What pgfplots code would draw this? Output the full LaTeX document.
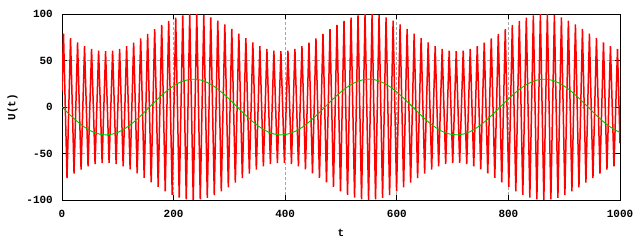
\documentclass[border=0pt]{standalone}
\usepackage{pgfplots}
\pgfplotsset{compat=1.18}
\usepackage{fontspec}
\setmainfont{Liberation Mono}
\definecolor{gpgreen}{RGB}{0,192,0}
\definecolor{gpred}{RGB}{255,0,0}
\begin{document}
\begin{tikzpicture}
\useasboundingbox (0,0) rectangle (640bp,240bp);
\begin{axis}[
  at={(62bp,40bp)}, anchor=south west,
  scale only axis, width=558bp, height=186bp,
  xmin=0, xmax=1000, ymin=-100, ymax=100,
  xtick={0,200,...,1000}, ytick={-100,-50,...,100},
  tick align=inside, major tick length=5bp,
  grid=major,
  grid style={gray!70, dash pattern=on 3bp off 2bp, line width=0.8bp},
  axis line style={line width=0.8bp},
  tick style={black, line width=0.8bp},
  font=\fontsize{11}{13}\selectfont\bfseries,
  /pgf/number format/assume math mode=true,
  /pgf/number format/1000 sep={},
  xticklabel style={anchor=north, inner sep=0pt, yshift=-10bp},
  yticklabel style={anchor=east, inner sep=0pt, xshift=-9bp},
  xlabel={t}, ylabel={U(t)},
  every axis x label/.style={at={(axis description cs:0.5,-0.1774)}, anchor=center},
  every axis y label/.style={at={(axis description cs:-0.0887,0.5)}, anchor=center, rotate=90},
]
\addplot[gpred, line width=1.5bp] coordinates {
(0,17) (2.7,78.9) (9.0,-76.4) (15.3,74.0) (21.6,-71.6) (27.9,69.4) (34.2,-67.4) (40.4,65.5) (46.7,-63.9) (53.0,62.5) (59.3,-61.5) (65.6,60.7) (71.9,-60.2) (78.1,60.0) (84.4,-60.1) (90.7,60.6) (97.0,-61.3) (103.3,62.4) (109.6,-63.7) (115.8,65.3) (122.1,-67.1) (128.4,69.2) (134.7,-71.3) (141.0,73.7) (147.3,-76.1) (153.5,78.6) (159.8,-81.1) (166.1,83.6) (172.4,-86.0) (178.7,88.4) (185.0,-90.6) (191.2,92.6) (197.5,-94.5) (203.8,96.1) (210.1,-97.5) (216.4,98.5) (222.7,-99.3) (228.9,99.8) (235.2,-100.0) (241.5,99.9) (247.8,-99.4) (254.1,98.7) (260.4,-97.6) (266.6,96.3) (272.9,-94.7) (279.2,92.9) (285.5,-90.8) (291.8,88.7) (298.1,-86.3) (304.3,83.9) (310.6,-81.4)
(316.9,78.9) (323.2,-76.4) (329.5,74.0) (335.8,-71.6) (342.0,69.4) (348.3,-67.4) (354.6,65.5) (360.9,-63.9) (367.2,62.5) (373.5,-61.5) (379.7,60.7) (386.0,-60.2) (392.3,60.0) (398.6,-60.1) (404.9,60.6) (411.2,-61.3) (417.4,62.4) (423.7,-63.7) (430.0,65.3) (436.3,-67.1) (442.6,69.2) (448.9,-71.3) (455.1,73.7) (461.4,-76.1) (467.7,78.6) (474.0,-81.1) (480.3,83.6) (486.5,-86.0) (492.8,88.4) (499.1,-90.6) (505.4,92.6) (511.7,-94.5) (518.0,96.1) (524.3,-97.5) (530.5,98.5) (536.8,-99.3) (543.1,99.8) (549.4,-100.0) (555.7,99.9) (561.9,-99.4) (568.2,98.7) (574.5,-97.6) (580.8,96.3) (587.1,-94.7) (593.4,92.9) (599.6,-90.8) (605.9,88.7) (612.2,-86.3) (618.5,83.9) (624.8,-81.4)
(631.1,78.9) (637.3,-76.4) (643.6,74.0) (649.9,-71.6) (656.2,69.4) (662.5,-67.4) (668.8,65.5) (675.0,-63.9) (681.3,62.5) (687.6,-61.5) (693.9,60.7) (700.2,-60.2) (706.5,60.0) (712.7,-60.1) (719.0,60.6) (725.3,-61.3) (731.6,62.4) (737.9,-63.7) (744.2,65.3) (750.4,-67.1) (756.7,69.2) (763.0,-71.3) (769.3,73.7) (775.6,-76.1) (781.9,78.6) (788.1,-81.1) (794.4,83.6) (800.7,-86.0) (807.0,88.4) (813.3,-90.6) (819.6,92.6) (825.8,-94.5) (832.1,96.1) (838.4,-97.5) (844.7,98.5) (851.0,-99.3) (857.3,99.8) (863.5,-100.0) (869.8,99.9) (876.1,-99.4) (882.4,98.7) (888.7,-97.6) (895.0,96.3) (901.2,-94.7) (907.5,92.9) (913.8,-90.8) (920.1,88.7) (926.4,-86.3) (932.7,83.9) (938.9,-81.4)
(945.2,78.9) (951.5,-76.4) (957.8,74.0) (964.1,-71.6) (970.4,69.4) (976.6,-67.4) (982.9,65.5) (989.2,-63.9) (995.5,62.5) (1000,-39)
};
\addplot[gpgreen, line width=0.9bp] coordinates {
(0,0) (10,-6.0) (20,-11.7) (30,-16.9) (40,-21.5) (50,-25.2) (60,-28.0) (70,-29.6) (80,-30.0) (90,-29.2)
(100,-27.3) (110,-24.3) (120,-20.3) (130,-15.5) (140,-10.1) (150,-4.2) (160,1.8) (170,7.7) (180,13.3) (190,18.4)
(200,22.7) (210,26.1) (220,28.5) (230,29.8) (240,29.9) (250,28.8) (260,26.5) (270,23.2) (280,18.9) (290,13.9)
(300,8.4) (310,2.5) (320,-3.5) (330,-9.3) (340,-14.8) (350,-19.7) (360,-23.8) (370,-27.0) (380,-29.0) (390,-30.0)
(400,-29.7) (410,-28.2) (420,-25.6) (430,-22.0) (440,-17.5) (450,-12.4) (460,-6.7) (470,-0.7) (480,5.2) (490,11.0)
(500,16.3) (510,21.0) (520,24.8) (530,27.7) (540,29.4) (550,30.0) (560,29.4) (570,27.6) (580,24.7) (590,20.9)
(600,16.1) (610,10.7) (620,5.0) (630,-1.0) (640,-6.9) (650,-12.6) (660,-17.8) (670,-22.2) (680,-25.8) (690,-28.4)
(700,-29.7) (710,-29.9) (720,-29.0) (730,-26.9) (740,-23.6) (750,-19.5) (760,-14.6) (770,-9.1) (780,-3.2) (790,2.8)
(800,8.6) (810,14.2) (820,19.1) (830,23.3) (840,26.5) (850,28.8) (860,29.9) (870,29.8) (880,28.5) (890,26.0)
(900,22.5) (910,18.2) (920,13.1) (930,7.4) (940,1.5) (950,-4.5) (960,-10.3) (970,-15.7) (980,-20.4) (990,-24.4)
(1000,-27.4)
};
\end{axis}
\end{tikzpicture}
\end{document}
